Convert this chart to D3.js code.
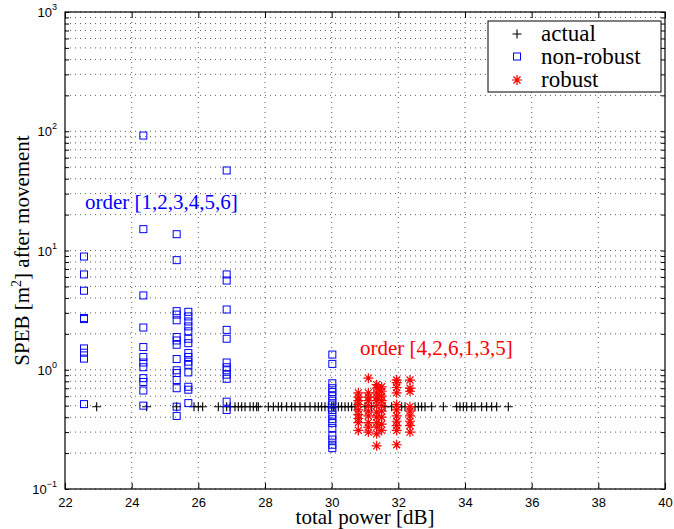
<!DOCTYPE html>
<html>
<head>
<meta charset="utf-8">
<script src="https://cdn.jsdelivr.net/npm/d3@7"></script>
<style>
  body { margin: 0; background: #fff; }
  svg { display: block; }
</style>
</head>
<body>
<script>
// values
var xTicks = [22, 24, 26, 28, 30, 32, 34, 36, 38, 40];
var yDecades = [-1, 0, 1, 2, 3];

var actualX = [22.95, 24.45, 25.35, 25.87, 26.0, 26.13, 26.6, 26.85, 26.95, 27.1, 27.2, 27.3, 27.4,
  27.55, 27.65, 27.75, 27.8, 28.1, 28.25, 28.4, 28.5, 28.65, 28.8, 28.9, 29.05, 29.2, 29.35, 29.5,
  29.6, 29.7, 29.8, 29.9, 30.0, 30.05, 30.1, 30.2, 30.3, 30.4, 30.5, 30.6, 30.7, 31.0, 31.2, 31.6,
  31.8, 32.1, 32.2, 32.5, 32.6, 32.7, 32.8, 33.0, 33.35, 33.75, 33.85, 33.95, 34.05, 34.2, 34.3,
  34.5, 34.65, 34.8, 34.95, 35.3];
var actualY = 0.49;

var nonRobustX = [22.57, 24.35, 25.35, 25.7, 26.85, 30.02];
var nonRobustY = [
  [8.9, 6.3, 4.6, 2.66, 2.72, 1.51, 1.39, 1.24, 0.515],
  [92, 15.1, 4.2, 2.26, 1.55, 1.28, 1.15, 1.05, 0.85, 0.79, 0.67, 0.5],
  [13.7, 8.3, 3.1, 2.9, 2.6, 1.88, 1.76, 1.62, 1.23, 0.99, 0.94, 0.82, 0.7, 0.49, 0.41],
  [3.06, 2.8, 2.54, 2.31, 2.1, 1.82, 1.67, 1.38, 1.28, 1.17, 1.1, 0.95, 0.72, 0.68, 0.525],
  [46.9, 6.3, 5.6, 3.2, 2.16, 1.82, 1.15, 1.05, 0.99, 0.91, 0.84, 0.54, 0.46],
  [1.34, 1.12, 0.77, 0.7, 0.65, 0.6, 0.55, 0.51, 0.46, 0.42, 0.385, 0.357, 0.324, 0.28, 0.26, 0.235, 0.22]
];

var robustX = [30.8, 31.1, 31.35, 31.5, 31.95, 32.35];
var robustY = [
  [0.64, 0.59, 0.55, 0.51, 0.46, 0.42, 0.39, 0.36, 0.31],
  [0.85, 0.64, 0.59, 0.55, 0.5, 0.45, 0.41, 0.36, 0.33, 0.3],
  [0.75, 0.7, 0.64, 0.59, 0.55, 0.5, 0.44, 0.4, 0.36, 0.33, 0.29, 0.23],
  [0.72, 0.66, 0.6, 0.55, 0.5, 0.45, 0.4, 0.35, 0.31],
  [0.82, 0.78, 0.71, 0.64, 0.51, 0.46, 0.41, 0.37, 0.34, 0.31, 0.235],
  [0.82, 0.7, 0.66, 0.49, 0.45, 0.41, 0.37, 0.34, 0.3]
];

var legendLabels = ["actual", "non-robust", "robust"];
var notes = [
  { text: "order [1,2,3,4,5,6]", x: 22.6, y: 22.4, color: "#0000ff" },
  { text: "order [4,2,6,1,3,5]", x: 30.85, y: 1.34, color: "#ff0000" }
];

var width = 674, height = 529;
var margin = { top: 12, right: 9, bottom: 40, left: 65 };
var w = width - margin.left - margin.right;
var h = height - margin.top - margin.bottom;

var serif = "'Liberation Serif', 'DejaVu Serif', serif";
var sans = "'Liberation Sans', Arial, sans-serif";

var svg = d3.select("body").append("svg")
  .attr("width", width)
  .attr("height", height);

var g = svg.append("g")
  .attr("transform", `translate(${margin.left},${margin.top})`);

var x = d3.scaleLinear().domain([22, 40]).range([0, w]);
var y = d3.scaleLog().domain([0.1, 1000]).range([h, 0]);

// minor log ticks (2..9 in every decade) plus majors
var yAll = [];
yDecades.forEach(function (e) {
  for (var m = 1; m < 10; m++) {
    var v = m * Math.pow(10, e);
    if (v <= 1000) yAll.push(v);
  }
});

// dotted grid
g.append("g").selectAll("line").data(yAll).enter().append("line")
  .attr("x1", 0).attr("x2", w)
  .attr("y1", d => y(d)).attr("y2", d => y(d))
  .attr("stroke", "#333").attr("stroke-width", 0.8)
  .attr("stroke-dasharray", "1,4");
g.append("g").selectAll("line").data(xTicks.slice(1, -1)).enter().append("line")
  .attr("x1", d => x(d)).attr("x2", d => x(d))
  .attr("y1", 0).attr("y2", h)
  .attr("stroke", "#333").attr("stroke-width", 0.8)
  .attr("stroke-dasharray", "1,4");

// axes with inward ticks
var xBottom = d3.axisBottom(x).tickValues(xTicks).tickSizeInner(-6).tickSizeOuter(0).tickFormat(d3.format("d"));
var gx = g.append("g").attr("transform", `translate(0,${h})`).call(xBottom);
gx.selectAll("text").attr("dy", null).attr("y", 18).attr("font-family", sans).attr("font-size", 13).attr("fill", "#000");

var xTop = d3.axisTop(x).tickValues(xTicks).tickSizeInner(-6).tickSizeOuter(0).tickFormat("");
g.append("g").call(xTop);

var yLeft = d3.axisLeft(y).tickValues(yAll).tickSizeInner(-4).tickSizeOuter(0).tickFormat("");
g.append("g").call(yLeft);
var yRight = d3.axisRight(y).tickValues(yAll).tickSizeInner(-4).tickSizeOuter(0).tickFormat("");
g.append("g").attr("transform", `translate(${w},0)`).call(yRight);

g.selectAll(".domain").remove();
g.selectAll(".tick line").attr("stroke", "#000");
g.append("rect").attr("width", w).attr("height", h)
  .attr("fill", "none").attr("stroke", "#000").attr("stroke-width", 1.2);

// y tick labels 10^e
var yl = g.append("g").selectAll("text").data(yDecades).enter().append("text")
  .attr("x", -8).attr("y", d => y(Math.pow(10, d)) + 5)
  .attr("text-anchor", "end")
  .attr("font-family", sans).attr("font-size", 13);
yl.append("tspan").text("10");
yl.append("tspan").attr("dy", -7).attr("font-size", 9).text(d => d < 0 ? "\u2212" + (-d) : d);

// actual (+)
g.append("g").selectAll("path").data(actualX).enter().append("path")
  .attr("transform", d => `translate(${x(d)},${y(actualY)})`)
  .attr("d", "M-4.5,0H4.5M0,-4.5V4.5")
  .attr("stroke", "#000").attr("stroke-width", 1.1).attr("fill", "none");

// non-robust squares
var nr = [];
nonRobustX.forEach(function (xv, i) { nonRobustY[i].forEach(function (yv) { nr.push([xv, yv]); }); });
g.append("g").selectAll("rect").data(nr).enter().append("rect")
  .attr("x", d => x(d[0]) - 3.5).attr("y", d => y(d[1]) - 3.5)
  .attr("width", 7).attr("height", 7)
  .attr("fill", "none").attr("stroke", "#0000ff").attr("stroke-width", 1);

// robust asterisks
var rb = [];
robustX.forEach(function (xv, i) { robustY[i].forEach(function (yv) { rb.push([xv, yv]); }); });
g.append("g").selectAll("path").data(rb).enter().append("path")
  .attr("transform", d => `translate(${x(d[0])},${y(d[1])})`)
  .attr("d", "M-5,0H5M0,-5V5M-3.5,-3.5L3.5,3.5M-3.5,3.5L3.5,-3.5")
  .attr("stroke", "#ff0000").attr("stroke-width", 1.2).attr("fill", "none");

// annotations
g.selectAll(".note").data(notes).enter().append("text")
  .attr("x", d => x(d.x)).attr("y", d => y(d.y))
  .attr("fill", d => d.color)
  .attr("font-family", serif).attr("font-size", 21)
  .text(d => d.text);

// legend
var lg = g.append("g").attr("transform", `translate(${488 - margin.left},${21 - margin.top})`);
lg.append("rect").attr("width", 173).attr("height", 71)
  .attr("fill", "#fff").attr("stroke", "#000").attr("stroke-width", 1);
var rows = [13, 35.5, 59];
lg.append("path").attr("transform", `translate(29,${rows[0]})`)
  .attr("d", "M-4.5,0H4.5M0,-4.5V4.5").attr("stroke", "#000").attr("stroke-width", 1.1);
lg.append("rect").attr("x", 25.5).attr("y", rows[1] - 3.5).attr("width", 7).attr("height", 7)
  .attr("fill", "none").attr("stroke", "#0000ff");
lg.append("path").attr("transform", `translate(29,${rows[2]})`)
  .attr("d", "M-5,0H5M0,-5V5M-3.5,-3.5L3.5,3.5M-3.5,3.5L3.5,-3.5")
  .attr("stroke", "#ff0000").attr("stroke-width", 1.2);
lg.selectAll("text").data(legendLabels).enter().append("text")
  .attr("x", 53).attr("y", (d, i) => rows[i] + 7)
  .attr("font-family", serif).attr("font-size", 23)
  .text(d => d);

// axis titles
svg.append("text")
  .attr("x", margin.left + w / 2).attr("y", 524)
  .attr("text-anchor", "middle")
  .attr("font-family", serif).attr("font-size", 21)
  .text("total power [dB]");

var yt = svg.append("text")
  .attr("transform", `translate(29,${margin.top + h / 2}) rotate(-90)`)
  .attr("text-anchor", "middle")
  .attr("font-family", serif).attr("font-size", 21);
yt.append("tspan").text("SPEB [m");
yt.append("tspan").attr("dy", -8).attr("font-size", 14).text("2");
yt.append("tspan").attr("dy", 8).text("] after movement");
</script>
</body>
</html>
